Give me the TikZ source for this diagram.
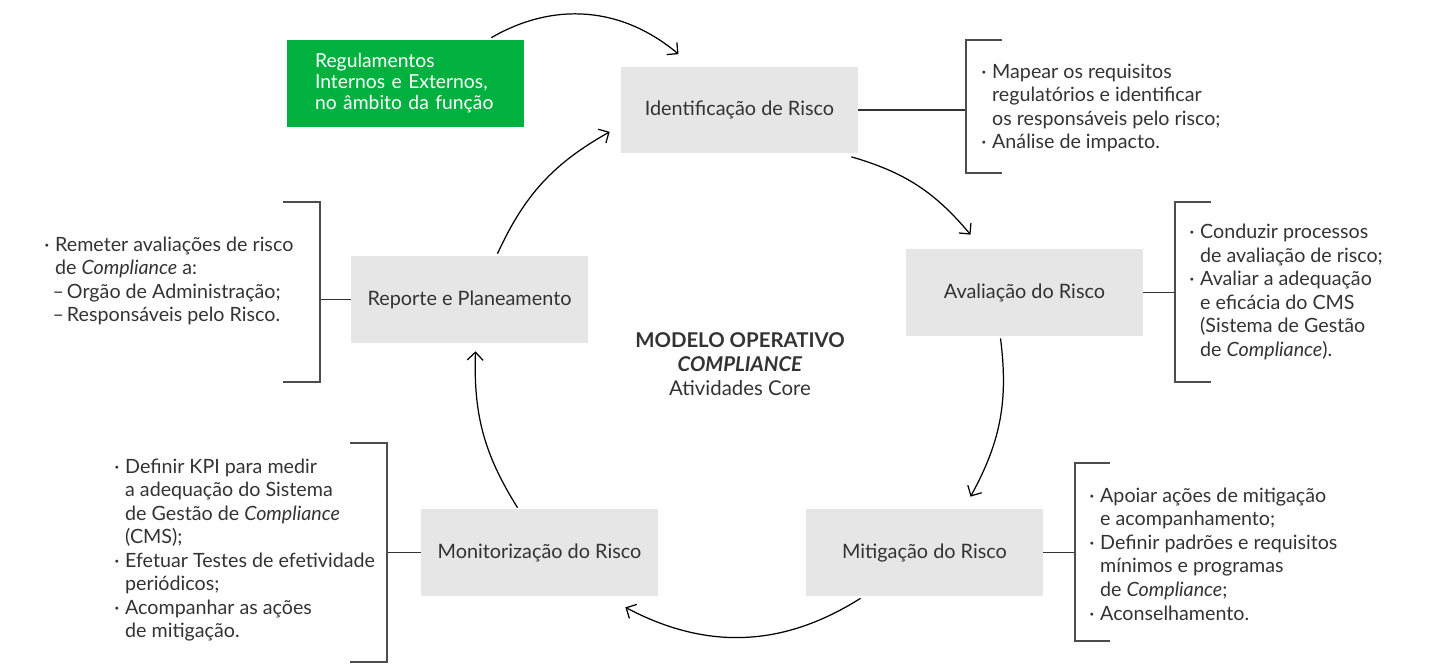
\documentclass[tikz,border=0pt]{standalone}
\usepackage{fontspec}
\setmainfont{Lato}
\usetikzlibrary{arrows.meta,calc}

\definecolor{boxgray}{HTML}{E6E6E7}
\definecolor{txtgray}{HTML}{333333}
\definecolor{regreen}{HTML}{00B140}

% bullet, dash and hanging indent for the notes
\newcommand{\bul}{\makebox[0.55em][l]{·}}
\newcommand{\dsh}{\hspace*{0.42em}–\hspace{0.15em}}
\newcommand{\hng}{\hspace*{0.55em}}

\tikzset{
  stage/.style={fill=boxgray, text=txtgray, minimum width=4.74cm, minimum height=1.74cm,
    inner sep=0pt, font=\fontsize{11.3}{13}\selectfont},
  note/.style={anchor=west, align=left, inner sep=0pt, text=txtgray,
    font=\fontsize{11.2}{13.4}\selectfont},
  bracket/.style={draw=black!70, line width=0.6pt},
  link/.style={draw=black!80, line width=0.6pt},
  cycle/.style={draw=black, line width=0.7pt, -{Straight Barb[length=4.5pt,width=9pt]}},
}

\begin{document}
\begin{tikzpicture}[x=0.02cm, y=0.02cm]
\useasboundingbox (0,0) rectangle (1435,-671);

% stages
\node[fill=regreen, text=white, minimum width=4.74cm, minimum height=1.74cm,
  inner xsep=0.56cm, text width=3.62cm, align=left,
  font=\fontsize{11}{12}\selectfont] (reg) at (405.5,-83.5)
  {Regulamentos\\Internos e Externos,\\no âmbito da função};
\node[stage] (ident) at (739.5,-110) {Identificação de Risco};
\node[stage] (aval) at (1024.5,-292.5) {Avaliação do Risco};
\node[stage] (mitig) at (924.5,-552.5) {Mitigação do Risco};
\node[stage] (monit) at (539.5,-552.5) {Monitorização do Risco};
\node[stage] (report) at (469.5,-299.5) {Reporte e Planeamento};

\node[align=center, text=txtgray, font=\fontsize{11.6}{13.6}\selectfont] (title) at (740,-364)
  {\textbf{MODELO OPERATIVO}\\\textbf{\textit{COMPLIANCE}}\\Atividades Core};

% cycle
\draw[cycle] ($(reg.north east)+(-33,2)$) to[out=30,in=140] ($(ident.north)+(-61,12)$);
\draw[cycle] ($(ident.south east)+(-7,-3)$) to[bend left=17] ($(aval.north)+(-54,14)$);
\draw[cycle] ($(aval.south)+(-24,-2)$) to[bend left=18] ($(mitig.north)+(46,12)$);
\draw[cycle] ($(mitig.south)+(-64,-2)$) to[bend left=30] ($(monit.south east)+(-33,-11)$);
\draw[cycle] ($(monit.north)+(-22,1)$) to[bend left=17] ($(report.south)+(6,-8)$);
\draw[cycle] ($(report.north)+(28,2)$) to[bend left=18] ($(ident.south west)+(-11,22)$);

% notes
\coordinate (identbr) at (966,-110);
\draw[link] (ident.east) -- (identbr);
\draw[bracket] (1002,-40) -- (966,-40) -- (966,-173) -- (1002,-173);
\node[note] (identtxt) at (981,-108)
  {\bul Mapear os requisitos\\
   \hng regulatórios e identificar\\
   \hng os responsáveis pelo risco;\\
   \bul Análise de impacto.};

\coordinate (avalbr) at (1175,-292.5);
\draw[link] (aval.east) -- (avalbr);
\draw[bracket] (1211,-202) -- (1175,-202) -- (1175,-382) -- (1211,-382);
\node[note] (avaltxt) at (1189,-292)
  {\bul Conduzir processos\\
   \hng de avaliação de risco;\\
   \bul Avaliar a adequação\\
   \hng e eficácia do CMS\\
   \hng (Sistema de Gestão\\
   \hng de \textit{Compliance}).};

\coordinate (mitigbr) at (1075,-552.5);
\draw[link] (mitig.east) -- (mitigbr);
\draw[bracket] (1110,-463) -- (1075,-463) -- (1075,-641) -- (1110,-641);
\node[note] (mitigtxt) at (1089,-554)
  {\bul Apoiar ações de mitigação\\
   \hng e acompanhamento;\\
   \bul Definir padrões e requisitos\\
   \hng mínimos e programas\\
   \hng de \textit{Compliance};\\
   \bul Aconselhamento.};

\coordinate (monitbr) at (387,-552.5);
\draw[link] (monit.west) -- (monitbr);
\draw[bracket] (350,-443) -- (387,-443) -- (387,-662) -- (350,-662);
\node[note] (monittxt) at (114,-550)
  {\bul Definir KPI para medir\\
   \hng a adequação do Sistema\\
   \hng de Gestão de \textit{Compliance}\\
   \hng (CMS);\\
   \bul Efetuar Testes de efetividade\\
   \hng periódicos;\\
   \bul Acompanhar as ações\\
   \hng de mitigação.};

\coordinate (reportbr) at (320,-299.5);
\draw[link] (report.west) -- (reportbr);
\draw[bracket] (283,-202) -- (320,-202) -- (320,-382) -- (283,-382);
\node[note] (reporttxt) at (44,-281)
  {\bul Remeter avaliações de risco\\
   \hng de \textit{Compliance} a:\\
   \dsh Orgão de Administração;\\
   \dsh Responsáveis pelo Risco.};
\end{tikzpicture}
\end{document}
